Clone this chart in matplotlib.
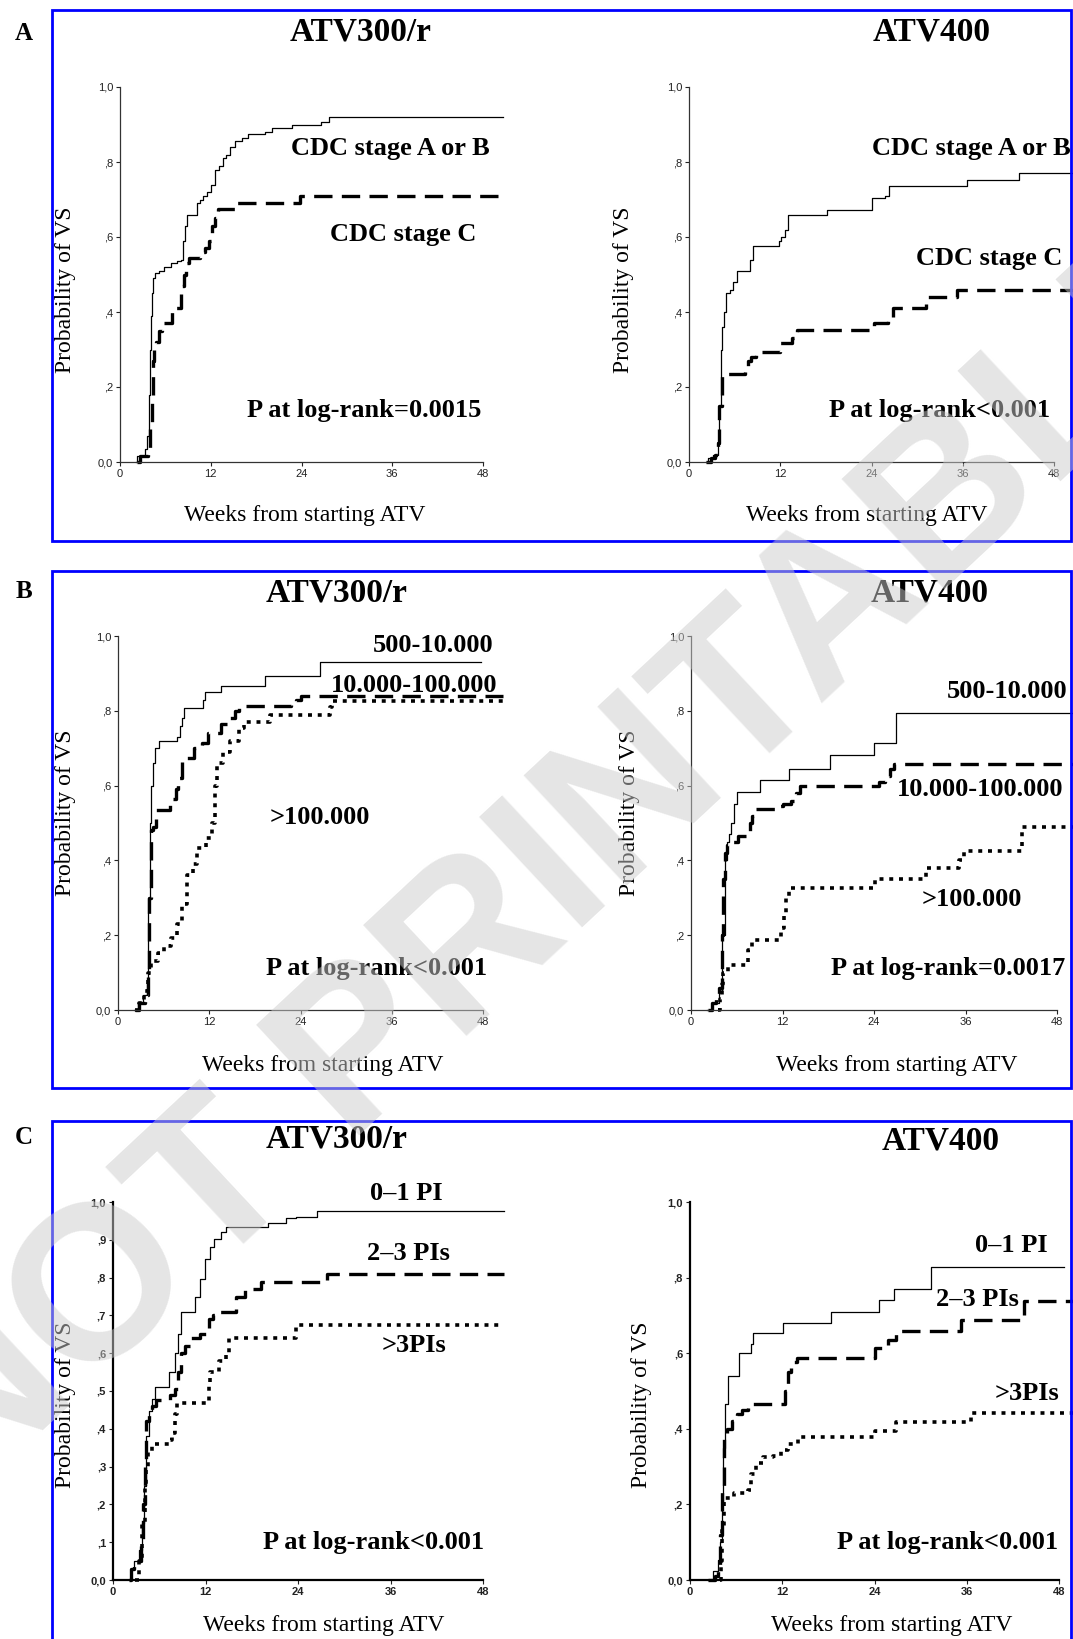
import matplotlib
matplotlib.use("Agg")
import matplotlib.pyplot as plt
from matplotlib.patches import Rectangle

W, H = 1073, 1639
SERIF = "Liberation Serif"
SANS = "Liberation Sans"

weeks_ticks = [0, 12, 24, 36, 48]

# ---- panel A : CDC stage ----
a300_ab_t = [2.1, 2.3, 3.3, 3.6, 3.9, 4.0, 4.1, 4.2, 4.35, 4.6, 5.1, 5.8, 6.8, 7.6, 8.1, 8.3, 8.6, 8.9,
             10.2, 10.6, 11.0, 11.5, 12.0, 12.5, 13.1, 13.6, 14.0, 14.6, 15.2, 16.1, 16.9, 19.2, 20.1,
             22.8, 26.6, 27.7, 50.7]
a300_ab_s = [0.0, 0.015, 0.035, 0.07, 0.18, 0.30, 0.39, 0.45, 0.49, 0.505, 0.51, 0.52, 0.53, 0.535, 0.54,
             0.59, 0.63, 0.66, 0.69, 0.70, 0.71, 0.72, 0.74, 0.78, 0.79, 0.81, 0.82, 0.84, 0.855, 0.865,
             0.875, 0.88, 0.89, 0.90, 0.907, 0.92, 0.92]
a300_c_t = [2.3, 2.7, 3.7, 4.0, 4.2, 4.35, 4.5, 4.8, 5.1, 5.6, 6.9, 7.4, 8.1, 8.4, 8.7, 9.1, 10.6, 11.2,
            11.8, 12.2, 12.6, 13.0, 15.3, 23.8, 50.7]
a300_c_s = [0.0, 0.015, 0.03, 0.10, 0.18, 0.27, 0.30, 0.32, 0.35, 0.37, 0.40, 0.41, 0.47, 0.50, 0.53,
            0.545, 0.56, 0.57, 0.59, 0.63, 0.65, 0.675, 0.69, 0.71, 0.71]
a400_ab_t = [2.2, 2.5, 3.1, 3.8, 4.0, 4.2, 4.4, 4.6, 4.9, 5.4, 5.8, 6.3, 8.0, 8.4, 11.8, 12.1, 12.6,
             13.0, 18.2, 24.0, 25.8, 26.3, 36.6, 43.4, 52.0]
a400_ab_s = [0.0, 0.01, 0.02, 0.05, 0.15, 0.30, 0.36, 0.40, 0.45, 0.46, 0.48, 0.51, 0.54, 0.575, 0.59,
             0.60, 0.62, 0.66, 0.672, 0.703, 0.71, 0.735, 0.751, 0.77, 0.77]
a400_c_t = [2.3, 2.9, 3.4, 3.8, 4.0, 4.3, 7.4, 7.7, 8.1, 8.8, 12.0, 13.5, 14.2, 24.3, 26.2, 26.8, 31.2,
            35.2, 52.0]
a400_c_s = [0.0, 0.01, 0.02, 0.05, 0.15, 0.235, 0.25, 0.27, 0.28, 0.293, 0.318, 0.33, 0.353, 0.371,
            0.38, 0.411, 0.44, 0.46, 0.46]

# ---- panel B : baseline HIV-RNA ----
b300_lo_t = [2.1, 2.6, 3.3, 3.8, 4.0, 4.2, 4.4, 4.6, 4.9, 5.4, 7.8, 8.1, 8.4, 8.7, 11.2, 11.5, 13.5,
             19.3, 26.6, 47.8]
b300_lo_s = [0.0, 0.02, 0.04, 0.08, 0.30, 0.50, 0.60, 0.66, 0.70, 0.72, 0.73, 0.76, 0.78, 0.808, 0.83,
             0.849, 0.867, 0.894, 0.93, 0.93]
b300_mid_t = [2.3, 2.8, 3.5, 3.9, 4.1, 4.3, 4.6, 5.0, 6.8, 7.6, 7.9, 8.4, 9.1, 10.0, 11.1, 11.8, 13.6,
              14.5, 15.4, 15.9, 22.7, 23.4, 24.0, 50.6]
b300_mid_s = [0.0, 0.02, 0.04, 0.10, 0.30, 0.48, 0.49, 0.534, 0.565, 0.59, 0.62, 0.663, 0.675, 0.70,
              0.715, 0.74, 0.765, 0.78, 0.80, 0.813, 0.82, 0.83, 0.84, 0.84]
b300_hi_t = [2.2, 2.7, 3.4, 3.9, 4.4, 5.2, 6.1, 7.0, 7.7, 8.4, 9.1, 9.8, 10.4, 11.6, 12.3, 12.7, 13.0,
             13.8, 14.7, 15.9, 16.6, 20.0, 27.9, 28.1, 50.6]
b300_hi_s = [0.0, 0.02, 0.05, 0.10, 0.13, 0.152, 0.17, 0.193, 0.23, 0.283, 0.36, 0.39, 0.433, 0.46,
             0.50, 0.60, 0.66, 0.69, 0.72, 0.754, 0.77, 0.79, 0.81, 0.826, 0.826]
b400_lo_t = [2.1, 2.8, 3.7, 4.1, 4.4, 4.7, 5.0, 5.3, 5.6, 6.0, 9.1, 12.8, 18.2, 24.0, 26.9, 52.0]
b400_lo_s = [0.0, 0.02, 0.05, 0.20, 0.40, 0.45, 0.47, 0.50, 0.55, 0.584, 0.614, 0.645, 0.681, 0.715,
             0.795, 0.795]
b400_mid_t = [2.2, 2.8, 3.3, 3.7, 4.0, 4.2, 4.4, 4.7, 5.1, 6.1, 7.7, 8.0, 8.4, 11.3, 12.0, 13.1, 13.8,
              14.3, 24.6, 25.5, 26.1, 26.6, 52.0]
b400_mid_s = [0.0, 0.02, 0.04, 0.06, 0.20, 0.35, 0.42, 0.44, 0.45, 0.464, 0.50, 0.52, 0.537, 0.545,
              0.55, 0.56, 0.58, 0.598, 0.61, 0.625, 0.645, 0.657, 0.657]
b400_hi_t = [3.5, 3.8, 4.0, 4.2, 4.8, 7.5, 8.0, 11.8, 12.2, 12.5, 12.9, 24.1, 30.8, 35.1, 35.8, 43.4, 52.0]
b400_hi_s = [0.0, 0.03, 0.07, 0.10, 0.12, 0.16, 0.188, 0.22, 0.26, 0.30, 0.327, 0.351, 0.381, 0.40,
             0.426, 0.49, 0.49]

# ---- panel C : previous PIs ----
c300_01_t = [2.2, 2.3, 2.7, 3.4, 3.8, 4.0, 4.3, 4.7, 5.0, 5.4, 7.2, 8.1, 8.4, 8.8, 10.6, 11.3, 11.9,
             12.6, 13.1, 14.0, 14.6, 20.1, 22.5, 23.7, 26.4, 50.7]
c300_01_s = [0.0, 0.03, 0.05, 0.08, 0.15, 0.25, 0.38, 0.448, 0.48, 0.51, 0.55, 0.60, 0.65, 0.708, 0.75,
             0.795, 0.85, 0.88, 0.902, 0.92, 0.933, 0.944, 0.957, 0.96, 0.975, 0.975]
c300_23_t = [2.1, 2.3, 2.7, 3.6, 3.9, 4.1, 4.3, 4.7, 5.1, 5.6, 7.4, 8.1, 8.4, 8.8, 9.3, 10.1, 11.3, 12.4,
             13.0, 13.7, 16.0, 17.1, 19.2, 27.7, 50.7]
c300_23_s = [0.0, 0.03, 0.05, 0.10, 0.20, 0.32, 0.42, 0.448, 0.46, 0.475, 0.49, 0.506, 0.55, 0.60, 0.62,
             0.64, 0.65, 0.69, 0.70, 0.709, 0.749, 0.77, 0.789, 0.81, 0.81]
c300_3p_t = [2.9, 3.4, 3.8, 4.1, 4.3, 4.5, 5.0, 7.2, 7.7, 8.0, 8.3, 12.4, 12.6, 13.7, 14.6, 15.1, 23.7, 50.7]
c300_3p_s = [0.0, 0.05, 0.15, 0.25, 0.297, 0.34, 0.36, 0.37, 0.39, 0.44, 0.467, 0.52, 0.55, 0.58, 0.60,
             0.64, 0.675, 0.675]
c400_01_t = [2.3, 3.0, 3.7, 3.9, 4.1, 4.3, 4.6, 5.0, 6.4, 7.9, 8.2, 12.1, 18.3, 24.6, 26.5, 31.3, 48.6]
c400_01_s = [0.0, 0.025, 0.052, 0.10, 0.20, 0.35, 0.466, 0.54, 0.60, 0.625, 0.653, 0.679, 0.708, 0.74,
             0.771, 0.829, 0.829]
c400_23_t = [2.4, 3.2, 3.7, 3.9, 4.1, 4.4, 4.8, 5.4, 6.1, 6.8, 7.5, 12.4, 12.8, 13.2, 13.9, 24.1, 25.7,
             26.8, 35.2, 43.5, 52.0]
c400_23_s = [0.0, 0.01, 0.03, 0.12, 0.25, 0.381, 0.40, 0.42, 0.44, 0.45, 0.466, 0.50, 0.55, 0.577, 0.588,
             0.613, 0.635, 0.66, 0.687, 0.737, 0.737]
c400_3p_t = [3.9, 4.0, 4.2, 4.4, 5.7, 7.5, 7.9, 8.6, 9.5, 10.8, 11.9, 12.8, 14.1, 24.1, 26.8, 36.6, 52.0]
c400_3p_s = [0.0, 0.05, 0.14, 0.218, 0.23, 0.239, 0.28, 0.31, 0.325, 0.328, 0.345, 0.36, 0.377, 0.394,
             0.417, 0.442, 0.442]

yticks_coarse = [0.0, 0.2, 0.4, 0.6, 0.8, 1.0]
ylabels_coarse = ["0,0", ",2", ",4", ",6", ",8", "1,0"]
yticks_fine = [0.0, 0.1, 0.2, 0.3, 0.4, 0.5, 0.6, 0.7, 0.8, 0.9, 1.0]
ylabels_fine = ["0,0", ",1", ",2", ",3", ",4", ",5", ",6", ",7", ",8", ",9", "1,0"]

fig = plt.figure(figsize=(W / 100, H / 100), dpi=100)
fig.patch.set_facecolor("white")


def ftxt(x, y, s, **kw):
    fig.text(x / W, 1 - y / H, s, **kw)


def make_ax(x0, x1, ytop, ybot, yt, yl, heavy=False):
    ax = fig.add_axes([x0 / W, 1 - ybot / H, (x1 - x0) / W, (ybot - ytop) / H])
    ax.set_xlim(0, 48)
    ax.set_ylim(0, 1)
    for s in ["top", "right"]:
        ax.spines[s].set_visible(False)
    lw = 1.6 if heavy else 0.9
    col = "black" if heavy else "#333333"
    for s in ["left", "bottom"]:
        ax.spines[s].set_linewidth(lw)
        ax.spines[s].set_color(col)
    ax.set_xticks(weeks_ticks)
    ax.set_xticklabels([str(w) for w in weeks_ticks])
    ax.set_yticks(yt)
    ax.set_yticklabels(yl)
    ax.tick_params(length=3, width=0.8, pad=2, labelsize=8, colors="#222222")
    for lab in ax.get_xticklabels() + ax.get_yticklabels():
        lab.set_fontfamily(SANS)
        if heavy:
            lab.set_fontweight("bold")
    ax.patch.set_alpha(0)
    return ax


def km(ax, t, s, kind):
    if kind == "solid":
        ax.plot(t, s, drawstyle="steps-post", color="black", lw=0.9, clip_on=False)
    elif kind == "dashed":
        ax.plot(t, s, drawstyle="steps-post", color="black", lw=2.4, dashes=(5.5, 2.8),
                dash_capstyle="butt", clip_on=False)
    else:
        ax.plot(t, s, drawstyle="steps-post", color="black", lw=2.6, dashes=(1.1, 1.6),
                dash_capstyle="butt", clip_on=False)


title_kw = dict(fontsize=24, fontweight="bold", family=SERIF, ha="center", va="center")
note_kw = dict(fontsize=19, fontweight="bold", family=SERIF, va="center")
lab_kw = dict(fontsize=17, family=SERIF, ha="center", va="center")

# blue frames
for (top, bot) in [(10, 541), (571, 1088), (1121, 1700)]:
    fig.patches.append(Rectangle((52 / W, 1 - bot / H), (1071 - 52) / W, (bot - top) / H,
                                 transform=fig.transFigure, fill=False, lw=2.0, ec="#0000ff"))

# row letters
for letter, y in [("A", 33), ("B", 591), ("C", 1137)]:
    ftxt(24, y, letter, fontsize=18, fontweight="bold", family=SERIF, ha="center", va="center")

# ---- row A ----
ax = make_ax(120, 483, 87, 462, yticks_coarse, ylabels_coarse)
km(ax, a300_ab_t, a300_ab_s, "solid")
km(ax, a300_c_t, a300_c_s, "dashed")
ftxt(361, 32, "ATV300/r", **title_kw)
ftxt(490, 148, "CDC stage A or B", ha="right", **note_kw)
ftxt(476, 234, "CDC stage C", ha="right", **note_kw)
ftxt(481, 411, "P at log-rank=0.0015", ha="right", **note_kw)
ftxt(65, 290, "Probability of VS", rotation=90, **lab_kw)
ftxt(305, 516, "Weeks from starting ATV", **lab_kw)

ax = make_ax(689, 1054, 87, 462, yticks_coarse, ylabels_coarse)
km(ax, a400_ab_t, a400_ab_s, "solid")
km(ax, a400_c_t, a400_c_s, "dashed")
ftxt(932, 32, "ATV400", **title_kw)
ftxt(872, 148, "CDC stage A or B", ha="left", **note_kw)
ftxt(1062, 259, "CDC stage C", ha="right", **note_kw)
ftxt(1050, 411, "P at log-rank<0.001", ha="right", **note_kw)
ftxt(623, 290, "Probability of VS", rotation=90, **lab_kw)
ftxt(867, 516, "Weeks from starting ATV", **lab_kw)

# ---- row B ----
ax = make_ax(118, 483, 636, 1010, yticks_coarse, ylabels_coarse)
km(ax, b300_lo_t, b300_lo_s, "solid")
km(ax, b300_mid_t, b300_mid_s, "dashed")
km(ax, b300_hi_t, b300_hi_s, "dotted")
ftxt(337, 593, "ATV300/r", **title_kw)
ftxt(493, 645, "500-10.000", ha="right", **note_kw)
ftxt(497, 685, "10.000-100.000", ha="right", **note_kw)
ftxt(270, 817, ">100.000", ha="left", **note_kw)
ftxt(487, 968, "P at log-rank<0.001", ha="right", **note_kw)
ftxt(65, 813, "Probability of VS", rotation=90, **lab_kw)
ftxt(323, 1066, "Weeks from starting ATV", **lab_kw)

ax = make_ax(691, 1057, 636, 1010, yticks_coarse, ylabels_coarse)
km(ax, b400_lo_t, b400_lo_s, "solid")
km(ax, b400_mid_t, b400_mid_s, "dashed")
km(ax, b400_hi_t, b400_hi_s, "dotted")
ftxt(930, 593, "ATV400", **title_kw)
ftxt(1067, 691, "500-10.000", ha="right", **note_kw)
ftxt(1063, 790, "10.000-100.000", ha="right", **note_kw)
ftxt(1022, 899, ">100.000", ha="right", **note_kw)
ftxt(1065, 968, "P at log-rank=0.0017", ha="right", **note_kw)
ftxt(630, 813, "Probability of VS", rotation=90, **lab_kw)
ftxt(897, 1066, "Weeks from starting ATV", **lab_kw)

# ---- row C ----
ax = make_ax(113, 483, 1202, 1580, yticks_fine, ylabels_fine, heavy=True)
km(ax, c300_01_t, c300_01_s, "solid")
km(ax, c300_23_t, c300_23_s, "dashed")
km(ax, c300_3p_t, c300_3p_s, "dotted")
ftxt(337, 1139, "ATV300/r", **title_kw)
ftxt(443, 1193, "0\u20131 PI", ha="right", **note_kw)
ftxt(450, 1254, "2\u20133 PIs", ha="right", **note_kw)
ftxt(446, 1345, ">3PIs", ha="right", **note_kw)
ftxt(484, 1543, "P at log-rank<0.001", ha="right", **note_kw)
ftxt(65, 1405, "Probability of VS", rotation=90, **lab_kw)
ftxt(324, 1625, "Weeks from starting ATV", **lab_kw)

ax = make_ax(690, 1059, 1202, 1580, yticks_coarse, ylabels_coarse, heavy=True)
km(ax, c400_01_t, c400_01_s, "solid")
km(ax, c400_23_t, c400_23_s, "dashed")
km(ax, c400_3p_t, c400_3p_s, "dotted")
ftxt(941, 1141, "ATV400", **title_kw)
ftxt(1048, 1245, "0\u20131 PI", ha="right", **note_kw)
ftxt(1019, 1300, "2\u20133 PIs", ha="right", **note_kw)
ftxt(1059, 1394, ">3PIs", ha="right", **note_kw)
ftxt(1058, 1542, "P at log-rank<0.001", ha="right", **note_kw)
ftxt(641, 1405, "Probability of VS", rotation=90, **lab_kw)
ftxt(892, 1625, "Weeks from starting ATV", **lab_kw)

# watermark on top
ftxt(572, 859, "NOT PRINTABLE", fontsize=158, fontweight="bold", family=SANS, color="#cccccc",
     alpha=0.5, rotation=43, ha="center", va="center", zorder=20)

fig.savefig("out.png", dpi=100, facecolor="white")
